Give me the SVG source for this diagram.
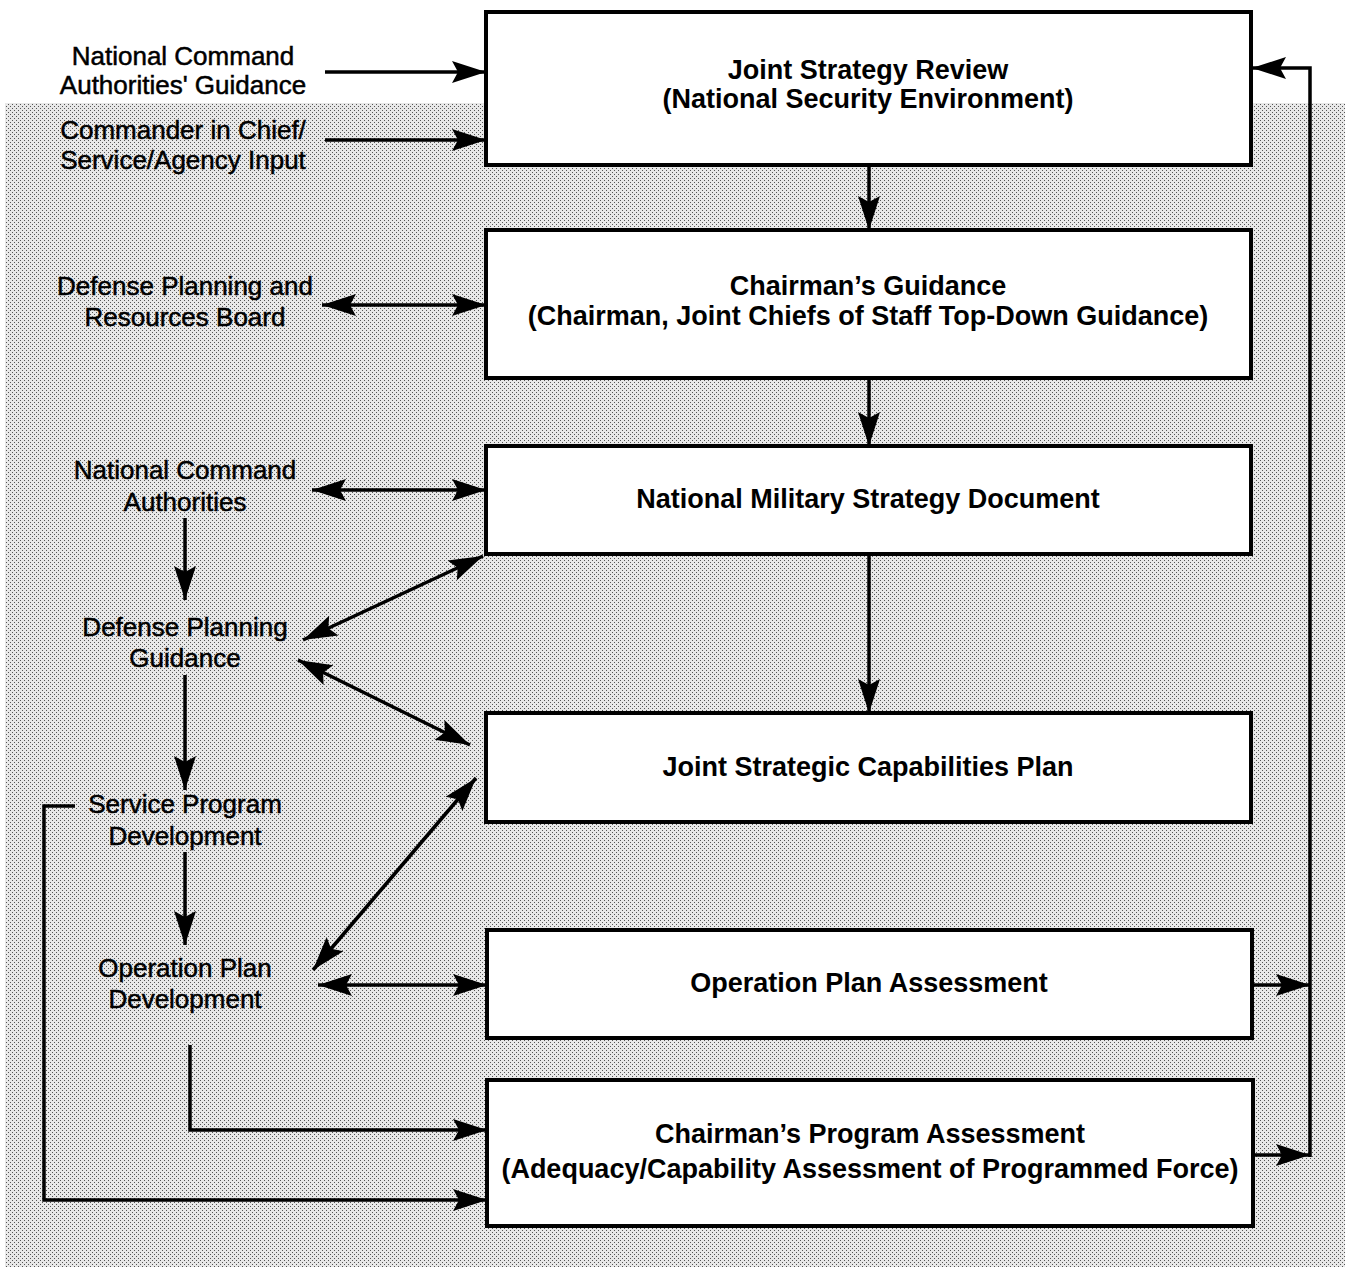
<svg xmlns="http://www.w3.org/2000/svg" width="1345" height="1267" viewBox="0 0 1345 1267">
<style>
.box{fill:#fff;stroke:#000;stroke-width:4}
.bt{font-family:"Liberation Sans",Arial,sans-serif;font-weight:bold;font-size:27px;text-anchor:middle;fill:#000}
.lt{font-family:"Liberation Sans",Arial,sans-serif;font-size:26px;text-anchor:middle;fill:#000;stroke:#000;stroke-width:0.5}
.c{fill:none;stroke:#000;stroke-width:3.5}
.a{marker-end:url(#ah)}
.d{marker-end:url(#ah);marker-start:url(#ah)}
</style>
<defs>
<pattern id="dots" width="4" height="4" patternUnits="userSpaceOnUse">
<rect width="4" height="4" fill="#e8e8e8"/>
<rect x="0" y="0" width="1" height="1" fill="#555"/>
<rect x="2" y="2" width="1" height="1" fill="#555"/>
</pattern>
<marker id="ah" markerUnits="userSpaceOnUse" markerWidth="44" markerHeight="30" refX="36" refY="12" orient="auto-start-reverse" viewBox="0 0 44 24">
<path d="M36,12 L2,1 L8,12 L2,23 Z" fill="#000"/>
</marker>
</defs>
<rect x="0" y="0" width="1345" height="1267" fill="#fff"/>
<rect x="5" y="103" width="1340" height="1164" fill="url(#dots)"/>

<g id="connectors">
<line class="c a" x1="325" y1="72" x2="486" y2="72"/>
<line class="c a" x1="325" y1="140" x2="486" y2="140"/>
<line class="c d" x1="322" y1="305" x2="486" y2="305"/>
<line class="c d" x1="312" y1="490" x2="486" y2="490"/>
<line class="c a" x1="185" y1="518" x2="185" y2="600"/>
<line class="c d" x1="303" y1="640" x2="483" y2="556"/>
<line class="c d" x1="298" y1="660" x2="470" y2="745"/>
<line class="c a" x1="185" y1="675" x2="185" y2="790"/>
<line class="c a" x1="185" y1="852" x2="185" y2="945"/>
<line class="c d" x1="313" y1="970" x2="476" y2="778"/>
<line class="c d" x1="318" y1="985" x2="487" y2="985"/>
<line class="c a" x1="869" y1="165" x2="869" y2="230"/>
<line class="c a" x1="869" y1="378" x2="869" y2="446"/>
<line class="c a" x1="869" y1="554" x2="869" y2="713"/>
<polyline class="c a" points="190,1045 190,1130 487,1130"/>
<polyline class="c a" points="75,806 44,806 44,1200 487,1200"/>
<polyline class="c a" points="1310,1157 1310,68 1252,68"/>
<line class="c a" x1="1252" y1="985" x2="1310" y2="985"/>
<line class="c a" x1="1253" y1="1155" x2="1310" y2="1155"/>
</g>

<g id="jsr"><rect class="box" x="486" y="12" width="765" height="153"/>
<text class="bt" x="868" y="79">Joint Strategy Review</text>
<text class="bt" x="868" y="108">(National Security Environment)</text></g>
<g id="cg"><rect class="box" x="486" y="230" width="765" height="148"/>
<text class="bt" x="868" y="295">Chairman’s Guidance</text>
<text class="bt" x="868" y="325">(Chairman, Joint Chiefs of Staff Top-Down Guidance)</text></g>
<g id="nmsd"><rect class="box" x="486" y="446" width="765" height="108"/>
<text class="bt" x="868" y="508">National Military Strategy Document</text></g>
<g id="jscp"><rect class="box" x="486" y="713" width="765" height="109"/>
<text class="bt" x="868" y="776">Joint Strategic Capabilities Plan</text></g>
<g id="opa"><rect class="box" x="487" y="930" width="765" height="108"/>
<text class="bt" x="869" y="992">Operation Plan Assessment</text></g>
<g id="cpa"><rect class="box" x="487" y="1080" width="766" height="146"/>
<text class="bt" x="870" y="1143">Chairman’s Program Assessment</text>
<text class="bt" x="870" y="1178">(Adequacy/Capability Assessment of Programmed Force)</text></g>

<g id="nca-guidance"><text class="lt" x="183" y="65">National Command</text>
<text class="lt" x="183" y="94">Authorities' Guidance</text></g>
<g id="cinc"><text class="lt" x="183" y="139">Commander in Chief/</text>
<text class="lt" x="183" y="169">Service/Agency Input</text></g>
<g id="dprb"><text class="lt" x="185" y="295">Defense Planning and</text>
<text class="lt" x="185" y="326">Resources Board</text></g>
<g id="nca"><text class="lt" x="185" y="479">National Command</text>
<text class="lt" x="185" y="511">Authorities</text></g>
<g id="dpg"><text class="lt" x="185" y="636">Defense Planning</text>
<text class="lt" x="185" y="667">Guidance</text></g>
<g id="spd"><text class="lt" x="185" y="813">Service Program</text>
<text class="lt" x="185" y="845">Development</text></g>
<g id="opd"><text class="lt" x="185" y="977">Operation Plan</text>
<text class="lt" x="185" y="1008">Development</text></g>
</svg>
